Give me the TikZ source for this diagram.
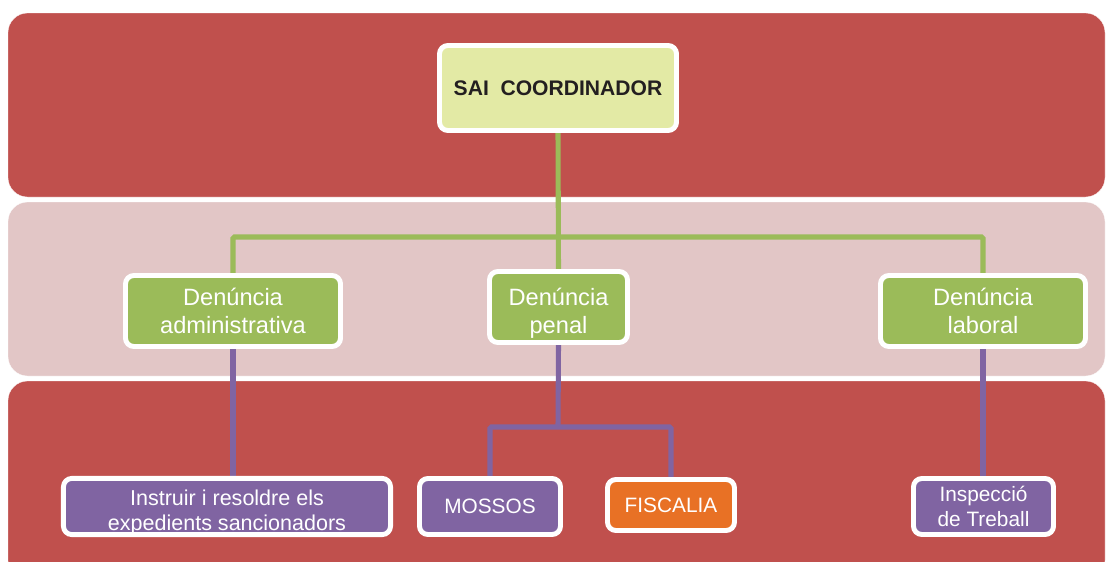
\documentclass[tikz,border=0pt]{standalone}
\usepackage{fontspec}
\setmainfont{Liberation Sans}
\usetikzlibrary{backgrounds}
\definecolor{bandred}{HTML}{C0504D}
\definecolor{bandpink}{HTML}{E2C6C6}
\definecolor{saifill}{HTML}{E3EAA5}
\definecolor{grn}{HTML}{9BBB59}
\definecolor{purp}{HTML}{8064A2}
\definecolor{orng}{HTML}{E87125}
\definecolor{darktext}{HTML}{231F20}
\begin{document}
\begin{tikzpicture}[x=0.025cm,y=-0.025cm,
  band/.style={draw=white,very thin,rounded corners=14pt},
  box/.style={draw=white,line width=3.5pt,rounded corners=6pt,align=center,inner sep=0pt,text=white},
  denbox/.style={box,fill=grn,minimum height=1.775cm,font=\fontsize{16.8}{19.8}\selectfont},
  lowbox/.style={box,fill=purp,minimum height=1.4cm,font=\fontsize{14.8}{17.5}\selectfont},
  greenline/.style={draw=grn,line width=3.6pt,rounded corners=1pt},
  purpleline/.style={draw=purp,line width=3.6pt,rounded corners=1pt}]
\useasboundingbox (0,0) rectangle (1106,561);

% top
\node[box,fill=saifill,text=darktext,minimum width=5.925cm,minimum height=2.125cm,
  font=\fontsize{15}{18}\selectfont\bfseries] (sai) at (558,88) {SAI~~COORDINADOR};

% denuncies
\node[denbox,minimum width=5.375cm] (dadm) at (233,311) {Denúncia\\administrativa};
\node[denbox,minimum width=3.45cm] (dpen) at (558.5,307) {\rule{0pt}{21pt}Denúncia\\penal};
\node[denbox,minimum width=5.125cm] (dlab) at (983,311) {Denúncia\\laboral};

% bottom
\node[lowbox,minimum width=8.175cm,font=\fontsize{15.3}{17.8}\selectfont] (instr) at (227,506.5) {\rule{0pt}{19pt}Instruir i resoldre els\\expedients sancionadors};
\node[lowbox,minimum width=3.525cm] (mossos) at (490,506.5) {MOSSOS};
\node[lowbox,fill=orng,minimum width=3.175cm,minimum height=1.275cm] (fisc) at (671,505) {FISCALIA};
\node[lowbox,minimum width=3.5cm] (insp) at (983.5,506.5) {Inspecció\\de Treball};

\begin{pgfonlayer}{background}
\draw[band,fill=bandred] (8,13) rectangle (1105,197);
\draw[band,fill=bandpink] (8,202) rectangle (1105,376);
\draw[band,fill=bandred] (8,381) rectangle (1105,580);

\coordinate (gbar) at (558,237);
\coordinate (pbar) at (558,427);
\draw[greenline] (sai.south) -- (dpen.north);
\draw[greenline] (dadm.north) |- (gbar) -| (dlab.north);
\draw[purpleline] (dadm.south) -- (dadm.south |- instr.north);
\draw[purpleline] (dlab.south) -- (dlab.south |- insp.north);
\draw[purpleline] (dpen.south) -- (pbar);
\draw[purpleline] (mossos.north) |- (pbar) -| (fisc.north);
\end{pgfonlayer}
\end{tikzpicture}
\end{document}
